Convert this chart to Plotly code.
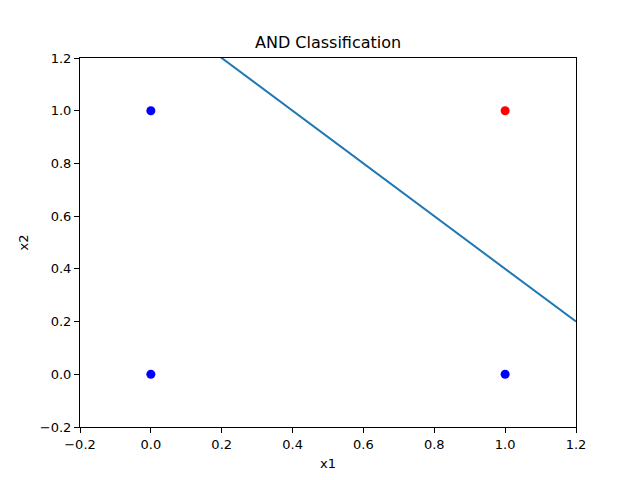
import plotly.graph_objects as go

pts_x = [0, 0, 1, 1]
pts_y = [0, 1, 0, 1]
pts_color = ["blue", "blue", "blue", "red"]
line_x = [-0.2, 1.2]
line_y = [1.6, 0.2]
tick_vals = [-0.2, 0.0, 0.2, 0.4, 0.6, 0.8, 1.0, 1.2]
tick_text = ["\u22120.2", "0.0", "0.2", "0.4", "0.6", "0.8", "1.0", "1.2"]

fig = go.Figure()
fig.add_trace(go.Scatter(x=line_x, y=line_y, mode="lines",
                         line=dict(color="#1f77b4", width=2), showlegend=False))
fig.add_trace(go.Scatter(x=pts_x, y=pts_y, mode="markers",
                         marker=dict(color=pts_color, size=9, line=dict(width=0)),
                         showlegend=False, cliponaxis=False))

axis_common = dict(showgrid=False, zeroline=False, showline=True, mirror=True,
                   linecolor="black", linewidth=1, ticks="outside", ticklen=5,
                   tickcolor="black", tickwidth=1,
                   tickfont=dict(family="DejaVu Sans", size=13, color="black"),
                   tickvals=tick_vals, ticktext=tick_text)

fig.update_layout(
    width=640, height=480,
    margin=dict(l=80, r=64, t=58, b=53),
    paper_bgcolor="white", plot_bgcolor="white",
    xaxis=dict(range=[-0.2, 1.2], title=dict(text="x1", font=dict(family="DejaVu Sans", size=13, color="black"), standoff=8), **axis_common),
    yaxis=dict(range=[-0.2, 1.2], title=dict(text="x2", font=dict(family="DejaVu Sans", size=13, color="black"), standoff=8), **axis_common),
    annotations=[dict(text="AND Classification", xref="paper", yref="paper", x=0.5, y=1,
                      xanchor="center", yanchor="bottom", yshift=4, showarrow=False,
                      font=dict(family="DejaVu Sans", size=16, color="black"))],
)

fig.write_html("out.html")
